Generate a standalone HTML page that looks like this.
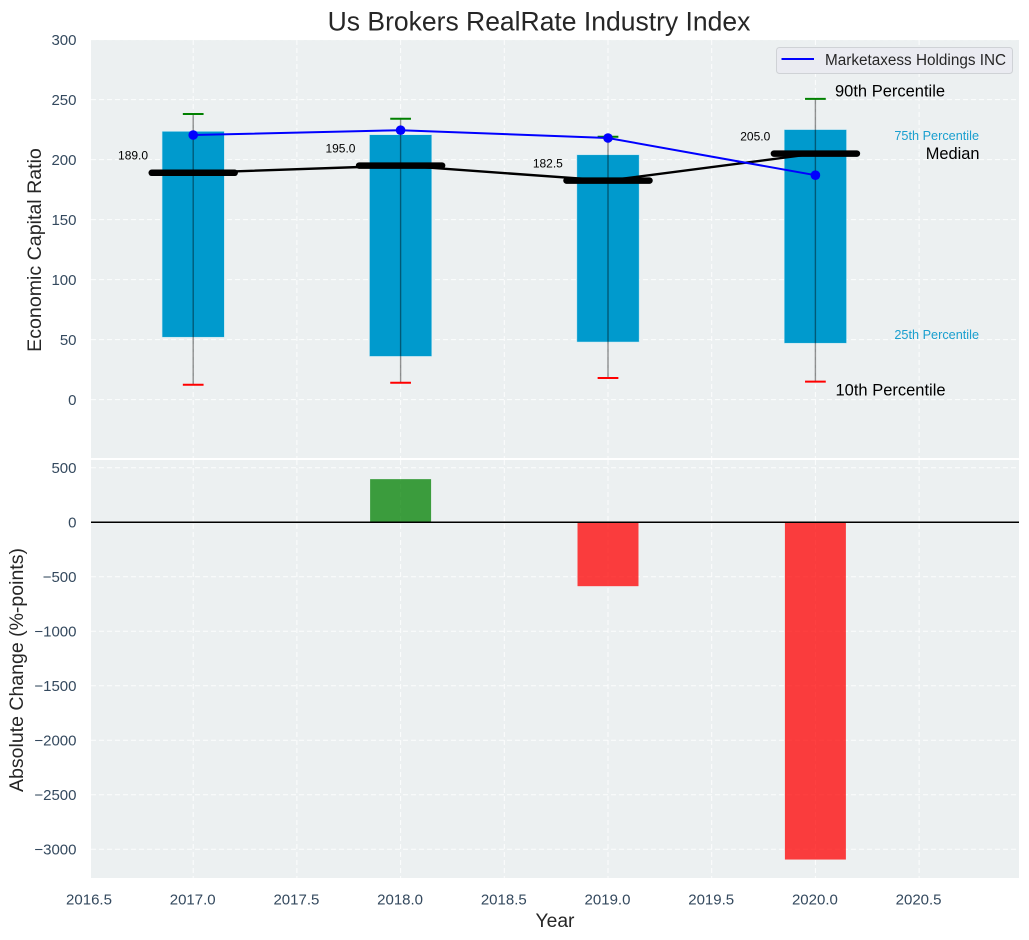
<!DOCTYPE html>
<html><head><meta charset="utf-8"><title>Us Brokers RealRate Industry Index</title>
<style>html,body{margin:0;padding:0;background:#fff}svg{display:block}text{font-family:"Liberation Sans",Arial,sans-serif}</style>
</head><body>
<svg id="chart" xmlns="http://www.w3.org/2000/svg" width="1029" height="940" viewBox="0 0 1029 940"></svg>
<script>
const years = [2017, 2018, 2019, 2020];
const p10 = [12.4, 14, 18, 15];
const p25 = [52, 36, 48, 47];
const medians = [189, 195, 182.5, 205];
const medianLabels = ['189.0', '195.0', '182.5', '205.0'];
const p75 = [223.5, 220.7, 204, 225];
const p90 = [238, 234, 219, 250.6];
const companyValues = [220.5, 224.5, 218, 187];
const changes = [0, 396, -586, -3094];
const xTicks = [2016.5, 2017, 2017.5, 2018, 2018.5, 2019, 2019.5, 2020, 2020.5];
const xTickLabels = ['2016.5', '2017.0', '2017.5', '2018.0', '2018.5', '2019.0', '2019.5', '2020.0', '2020.5'];
const topTicks = [0, 50, 100, 150, 200, 250, 300];
const bottomTicks = [500, 0, -500, -1000, -1500, -2000, -2500, -3000];
const bottomTickLabels = ['500', '0', '\u2212500', '\u22121000', '\u22121500', '\u22122000', '\u22122500', '\u22123000'];

const NS = 'http://www.w3.org/2000/svg';
const svg = document.getElementById('chart');
const L = 91, R = 1019, T1 = 40, B1 = 458, T2 = 460, B2 = 878;
const x = v => 193.2 + (v - 2017) * 207.4;
const y1 = v => 399.6 - v * 1.2;
const y2 = v => 522.3 - v * 0.109;
function add(tag, attrs, parent, txt) {
  const e = document.createElementNS(NS, tag);
  for (const k in attrs) e.setAttribute(k, attrs[k]);
  if (txt !== undefined) e.textContent = txt;
  (parent || svg).appendChild(e);
  return e;
}
const TICK = '#34495e', DARK = '#262626';
const gridStyle = {stroke: '#fff', 'stroke-width': 1, 'stroke-dasharray': '5 3', 'stroke-opacity': 0.85};
const defs = add('defs', {});
const cp1 = add('clipPath', {id: 'clip-top'}, defs);
add('rect', {x: L, y: T1, width: R - L, height: B1 - T1}, cp1);
const cp2 = add('clipPath', {id: 'clip-bottom'}, defs);
add('rect', {x: L, y: T2, width: R - L, height: B2 - T2}, cp2);

const bgTop = add('rect', {x: L, y: T1, width: R - L, height: B1 - T1, fill: '#ecf0f1'});


const bgBottom = add('rect', {x: L, y: T2, width: R - L, height: B2 - T2, fill: '#ecf0f1'});



const gTop = add('g', {'clip-path': 'url(#clip-top)'});


const gBottom = add('g', {'clip-path': 'url(#clip-bottom)'});



xTicks.forEach((t, i) => {
  const a = add('line', Object.assign({x1: x(t), x2: x(t), y1: T1, y2: B1}, gridStyle), gTop);
  
  
  const b = add('line', Object.assign({x1: x(t), x2: x(t), y1: T2, y2: B2}, gridStyle), gBottom);
  
  
  const lab = add('text', {x: x(t) - 0.5, y: 904.5, 'text-anchor': 'middle', 'font-size': 15, fill: TICK}, svg, xTickLabels[i]);
  
  
});
topTicks.forEach(t => {
  const a = add('line', Object.assign({x1: L, x2: R, y1: y1(t), y2: y1(t)}, gridStyle), gTop);
  
  
  const lab = add('text', {x: 76.5, y: y1(t) + 5.2, 'text-anchor': 'end', 'font-size': 15, fill: TICK}, svg, String(t));
  
  
});
bottomTicks.forEach((t, i) => {
  const a = add('line', Object.assign({x1: L, x2: R, y1: y2(t), y2: y2(t)}, gridStyle), gBottom);
  
  
  const lab = add('text', {x: 76.5, y: y2(t) + 5.2, 'text-anchor': 'end', 'font-size': 15, fill: TICK}, svg, bottomTickLabels[i]);
  
  
});

const BAR = 0.3, CAP = 0.1, MED = 0.4;
years.forEach((yr, i) => {
  const box = add('rect', {x: x(yr - BAR / 2), y: y1(p75[i]), width: x(yr + BAR / 2) - x(yr - BAR / 2), height: y1(p25[i]) - y1(p75[i]), fill: '#009acd', stroke: '#bfe6f3', 'stroke-width': 0.5}, gTop);
  
  
});
const medLine = add('polyline', {points: years.map((yr, i) => x(yr) + ',' + y1(medians[i])).join(' '), fill: 'none', stroke: '#000', 'stroke-width': 2.4}, gTop);


years.forEach((yr, i) => {
  const wh = add('line', {x1: x(yr), x2: x(yr), y1: y1(p90[i]), y2: y1(p10[i]), stroke: '#000', 'stroke-opacity': 0.42, 'stroke-width': 1.4}, gTop);
  
  
  const hi = add('line', {x1: x(yr - CAP / 2), x2: x(yr + CAP / 2), y1: y1(p90[i]), y2: y1(p90[i]), stroke: '#008000', 'stroke-width': 2}, gTop);
  
  
  const lo = add('line', {x1: x(yr - CAP / 2), x2: x(yr + CAP / 2), y1: y1(p10[i]), y2: y1(p10[i]), stroke: '#ff0000', 'stroke-width': 2}, gTop);
  
  
  const md = add('line', {x1: x(yr - MED / 2), x2: x(yr + MED / 2), y1: y1(medians[i]), y2: y1(medians[i]), stroke: '#000', 'stroke-width': 6.5, 'stroke-linecap': 'round'}, gTop);
  
  
  const ml = add('text', {x: x(yr - 0.29), y: y1(medians[i]) - 13.2, 'text-anchor': 'middle', 'font-size': 12, fill: '#000'}, gTop, medianLabels[i]);
  
  
});
const blue = add('polyline', {points: years.map((yr, i) => x(yr) + ',' + y1(companyValues[i])).join(' '), fill: 'none', stroke: '#0000ff', 'stroke-width': 2}, gTop);


years.forEach((yr, i) => {
  const c = add('circle', {cx: x(yr), cy: y1(companyValues[i]), r: 4.8, fill: '#0000ff'}, gTop);
  
  
});

years.forEach((yr, i) => {
  if (!changes[i]) return;
  const top = Math.min(y2(0), y2(changes[i]));
  const h = Math.abs(y2(changes[i]) - y2(0));
  const b = add('rect', {x: x(yr - 0.147), y: top, width: x(yr + 0.147) - x(yr - 0.147), height: h, fill: changes[i] > 0 ? '#008000' : '#ff0000', 'fill-opacity': 0.75}, gBottom);
  
  
});
const zero = add('line', {x1: L, x2: R, y1: y2(0), y2: y2(0), stroke: '#000', 'stroke-width': 1.5}, gBottom);



const labelSpecs = [
  ['90th Percentile', 835, 96.5, 'start', 16.5, '#000', 'p90-annotation'],
  ['10th Percentile', 835.5, 395.5, 'start', 16.5, '#000', 'p10-annotation'],
  ['Median', 979.5, 159, 'end', 16.4, '#000', 'median-annotation'],
  ['75th Percentile', 979, 140, 'end', 12.7, '#1a9fcf', 'p75-annotation'],
  ['25th Percentile', 979, 339, 'end', 12.7, '#1a9fcf', 'p25-annotation'],
  ['Us Brokers RealRate Industry Index', 539, 30.5, 'middle', 26.5, DARK, 'chart-title'],
  ['Year', 555, 927, 'middle', 19.3, DARK, 'x-axis-title']
];
labelSpecs.forEach(s => {
  const t = add('text', {x: s[1], y: s[2], 'text-anchor': s[3], 'font-size': s[4], fill: s[5]}, svg, s[0]);
  
  
});
const yt1 = add('text', {transform: 'translate(41,250) rotate(-90)', 'text-anchor': 'middle', 'font-size': 19.6, fill: DARK}, svg, 'Economic Capital Ratio');


const yt2 = add('text', {transform: 'translate(23,670) rotate(-90)', 'text-anchor': 'middle', 'font-size': 19.5, fill: DARK}, svg, 'Absolute Change (%-points)');



const legend = add('g', {});


const lbox = add('rect', {x: 776.5, y: 47.5, width: 236, height: 26, rx: 3, fill: '#eaebf1', stroke: '#cfd2d6', 'stroke-width': 1}, legend);


const lsw = add('line', {x1: 781.5, x2: 814, y1: 59, y2: 59, stroke: '#0000ff', 'stroke-width': 2}, legend);


const ltx = add('text', {x: 825, y: 65, 'font-size': 15.3, fill: DARK}, legend, 'Marketaxess Holdings INC');


</script>
</body></html>
